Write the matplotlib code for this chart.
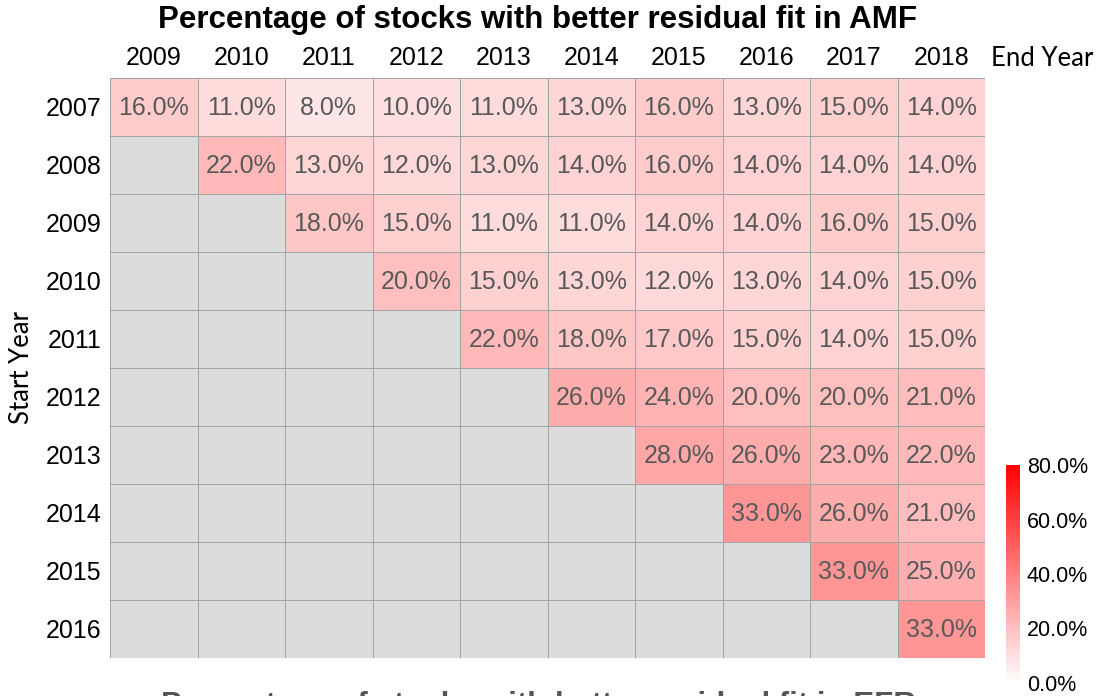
import numpy as np
import matplotlib
matplotlib.use("Agg")
import matplotlib.pyplot as plt
from matplotlib.colors import LinearSegmentedColormap

# data (fraction of stocks), NaN = not applicable
start_years = ["2007", "2008", "2009", "2010", "2011", "2012", "2013", "2014", "2015", "2016"]
end_years = ["2009", "2010", "2011", "2012", "2013", "2014", "2015", "2016", "2017", "2018"]
n = np.nan
row_2007 = [16, 11, 8, 10, 11, 13, 16, 13, 15, 14]
row_2008 = [n, 22, 13, 12, 13, 14, 16, 14, 14, 14]
row_2009 = [n, n, 18, 15, 11, 11, 14, 14, 16, 15]
row_2010 = [n, n, n, 20, 15, 13, 12, 13, 14, 15]
row_2011 = [n, n, n, n, 22, 18, 17, 15, 14, 15]
row_2012 = [n, n, n, n, n, 26, 24, 20, 20, 21]
row_2013 = [n, n, n, n, n, n, 28, 26, 23, 22]
row_2014 = [n, n, n, n, n, n, n, 33, 26, 21]
row_2015 = [n, n, n, n, n, n, n, n, 33, 25]
row_2016 = [n, n, n, n, n, n, n, n, n, 33]
cbar_ticks = [0.0, 0.2, 0.4, 0.6, 0.8]

vals = np.array([row_2007, row_2008, row_2009, row_2010, row_2011,
                 row_2012, row_2013, row_2014, row_2015, row_2016]) / 100.0

cmap = LinearSegmentedColormap.from_list("wr", ["#FFFFFF", "#FF0000"])
cmap.set_bad("#DCDCDC")

W, H = 1099, 696
fig = plt.figure(figsize=(W / 100, H / 100), dpi=100)
ax = fig.add_axes([110 / W, 1 - 658 / H, 875 / W, 580 / H])

mesh = ax.pcolormesh(np.ma.masked_invalid(vals), cmap=cmap, vmin=0, vmax=0.8,
                     edgecolors="#A3A3A3", linewidth=0.6)
ax.set_xlim(0, 10)
ax.set_ylim(10, 0)

for i in range(vals.shape[0]):
    for j in range(vals.shape[1]):
        if not np.isnan(vals[i, j]):
            ax.text(j + 0.5, i + 0.52, f"{vals[i, j]*100:.1f}%", ha="center", va="center",
                    fontsize=18, color="#595959", family="Liberation Sans")

ax.xaxis.tick_top()
ax.set_xticks(np.arange(10) + 0.5)
ax.set_xticklabels(end_years, fontsize=18, family="Liberation Sans")
ax.set_yticks(np.arange(10) + 0.5)
ax.set_yticklabels(start_years, fontsize=18, family="Liberation Sans")
ax.tick_params(length=0, pad=6)
for s in ax.spines.values():
    s.set_visible(False)

fig.text(538 / W, 1 - 20 / H, "Percentage of stocks with better residual fit in AMF",
         ha="center", va="center", fontsize=22.5, fontweight="bold", family="Liberation Sans")
fig.text(991 / W, 1 - 58 / H, "End Year", ha="left", va="center", fontsize=18.5, family="Lato")
fig.text(22 / W, 1 - 368 / H, "Start Year", ha="center", va="center", rotation=90,
         fontsize=18.5, family="Lato")
fig.text(538 / W, 5 / H, "Percentage of stocks with better residual fit in EFR",
         ha="center", va="top", fontsize=22.5, fontweight="bold", family="Liberation Sans",
         color="#555555")

cax = fig.add_axes([1006 / W, 1 - 683 / H, 14 / W, 218 / H])
cb = fig.colorbar(mesh, cax=cax, ticks=cbar_ticks)
cb.outline.set_visible(False)
cb.ax.set_yticklabels([f"{t*100:.1f}%" for t in cbar_ticks], fontsize=15.5, family="Liberation Sans")
cb.ax.tick_params(length=0, pad=5)

fig.savefig("out.png", dpi=100)
